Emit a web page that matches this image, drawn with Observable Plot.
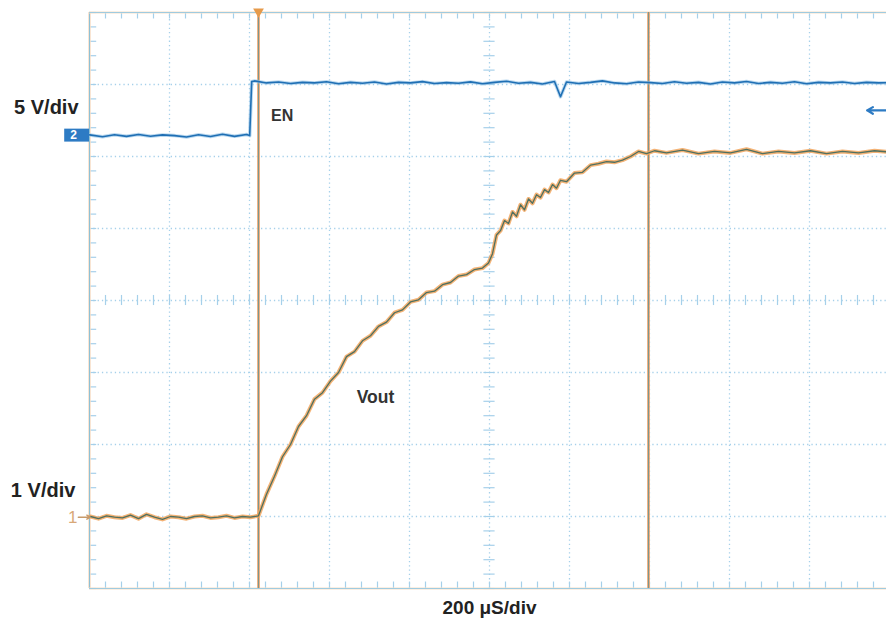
<!DOCTYPE html>
<html>
<head>
<meta charset="utf-8">
<script src="https://cdn.jsdelivr.net/npm/d3@7"></script>
<script src="https://cdn.jsdelivr.net/npm/@observablehq/plot@0.6"></script>
<style>
html,body{margin:0;padding:0;background:#fff;}
#chart svg{display:block;}
</style>
</head>
<body>
<div id="chart"></div>
<script>
// Oscilloscope settings
const timePerDiv = 200;          // µs/div
const enVoltsPerDiv = 5;         // V/div (channel 2, EN)
const voutVoltsPerDiv = 1;       // V/div (channel 1, Vout)
const centerTime = 577.5;        // µs at screen centre (trigger at 0)
const enGroundDiv = 2.29;        // ch2 ground marker position (div)
const voutGroundDiv = -3.01;     // ch1 ground marker position (div)
const cursorTimes = [0, 975];    // µs

const xDivs = [-5,-4,-3,-2,-1,0,1,2,3,4,5];
const yDivs = [-4,-3,-2,-1,0,1,2,3,4];

// EN trace (V)
const enT = [-422,-390,-360,-330,-300,-270,-240,-210,-180,-150,-120,-90,-60,-30,-22,-17,
  -10,20,50,80,110,140,170,200,230,260,290,320,350,380,410,440,470,500,530,560,590,620,650,680,
  710,740,755,770,800,830,860,890,920,950,980,1010,1040,1070,1100,1130,1160,1190,1220,1250,
  1280,1310,1340,1370,1400,1430,1460,1490,1520,1550,1580];
const enV = [0.05,-0.08,0.06,-0.05,0.08,-0.04,0.05,0.00,-0.10,0.06,-0.06,0.10,-0.05,0.08,0.00,3.75,
  3.80,3.66,3.72,3.62,3.70,3.66,3.74,3.60,3.70,3.64,3.72,3.58,3.70,3.66,3.75,3.62,3.68,3.64,3.73,3.60,3.70,3.78,3.64,3.70,
  3.58,3.76,2.70,3.72,3.62,3.70,3.80,3.66,3.60,3.72,3.68,3.62,3.74,3.64,3.70,3.58,3.72,3.66,3.76,3.62,
  3.70,3.64,3.74,3.60,3.70,3.66,3.72,3.62,3.70,3.66,3.68];

// Vout trace (V)
const voutT = [-420,-400,-380,-360,-340,-320,-300,-280,-260,-240,-220,-200,-180,-160,-140,-120,-100,-80,-60,-40,-20,0,
  20,40,60,80,100,120,140,160,180,200,220,240,260,280,300,320,340,360,380,400,420,440,460,480,500,520,540,560,
  575,585,595,605,615,625,635,645,655,665,675,685,695,705,715,725,735,745,755,770,790,810,830,850,870,890,910,930,950,970,990,
  1020,1060,1100,1140,1180,1220,1260,1300,1340,1380,1420,1460,1500,1540,1580];
const voutV = [0.01,-0.02,0.02,0.00,-0.01,0.03,-0.02,0.04,0.00,-0.03,0.01,0.00,-0.02,0.01,0.02,-0.01,0.00,0.02,-0.01,0.01,0.00,0.02,
  0.32,0.57,0.84,1.01,1.26,1.41,1.64,1.73,1.89,2.01,2.23,2.30,2.45,2.52,2.65,2.71,2.84,2.88,2.99,3.02,3.12,3.14,3.23,3.26,3.35,3.37,3.44,3.46,
  3.53,3.66,3.92,3.98,4.12,4.08,4.24,4.18,4.34,4.27,4.42,4.36,4.48,4.44,4.55,4.51,4.62,4.57,4.68,4.66,4.78,4.79,4.89,4.91,4.94,4.93,4.96,5.01,5.08,5.05,5.09,
  5.06,5.10,5.05,5.08,5.06,5.11,5.05,5.08,5.06,5.09,5.05,5.08,5.06,5.09,5.07];

const en = enT.map((t, i) => ({t, y: enV[i] / enVoltsPerDiv + enGroundDiv}));
const vout = voutT.map((t, i) => ({t, y: voutV[i] / voutVoltsPerDiv + voutGroundDiv}));

const divToT = d => centerTime + d * timePerDiv;
const minorX = d3.range(-25, 26).map(k => divToT(k / 5));
const minorY = d3.range(-20, 21).map(k => k / 5);
const font = "'Liberation Sans', Arial, Helvetica, sans-serif";
const gridColor = "#a6d0ea";

const chart = Plot.plot({
  width: 886,
  height: 621,
  marginLeft: 89, marginRight: 0, marginTop: 12, marginBottom: 33,
  x: {domain: [divToT(-5), divToT(5)], range: [89, 889]},
  y: {domain: [-4, 4], range: [588, 12]},
  axis: null,
  style: {fontFamily: font, background: "#fff", overflow: "visible"},
  marks: [
    // dotted grid
    Plot.ruleX(xDivs.slice(1, -1).map(divToT), {y1: -4, y2: 4, stroke: gridColor, strokeWidth: 1.3, strokeDasharray: "1.3,3"}),
    Plot.ruleY(yDivs.slice(1, -1), {x1: divToT(-5), x2: divToT(5), stroke: gridColor, strokeWidth: 1.3, strokeDasharray: "1.3,3"}),
    // minor ticks on centre lines and frame edges
    Plot.ruleX(minorX, {y1: -0.07, y2: 0.07, stroke: gridColor, strokeWidth: 1.2}),
    Plot.ruleX(minorX, {y1: -4, y2: -3.91, stroke: gridColor, strokeWidth: 1.2}),
    Plot.ruleX(minorX, {y1: 3.91, y2: 4, stroke: gridColor, strokeWidth: 1.2}),
    Plot.ruleY(minorY, {x1: divToT(-0.07), x2: divToT(0.07), stroke: gridColor, strokeWidth: 1.2}),
    Plot.ruleY(minorY, {x1: divToT(-5), x2: divToT(-4.91), stroke: gridColor, strokeWidth: 1.2}),
    // frame
    Plot.ruleX([divToT(-5)], {y1: -4, y2: 4, stroke: "#f7dcc4", strokeWidth: 2.5}),
    Plot.ruleX([divToT(-5)], {y1: -4, y2: 4, stroke: "#8fc0d4", strokeWidth: 1}),
    Plot.ruleY([-4, 4], {x1: divToT(-5), x2: divToT(5), stroke: "#f7e0c8", strokeWidth: 2.2}),
    Plot.ruleY([-4, 4], {x1: divToT(-5), x2: divToT(5), stroke: "#9fcbe0", strokeWidth: 1}),
    // cursors
    Plot.ruleX(cursorTimes, {y1: -4, y2: 4, stroke: "#eeaa78", strokeWidth: 2.8}),
    Plot.ruleX(cursorTimes, {y1: -4, y2: 4, stroke: "#7e968c", strokeWidth: 1}),
    // traces
    Plot.line(vout, {x: "t", y: "y", stroke: "#f2a65e", strokeWidth: 4, strokeOpacity: 0.85}),
    Plot.line(vout, {x: "t", y: "y", stroke: "#4f7060", strokeWidth: 1.3}),
    Plot.line(en, {x: "t", y: "y", stroke: "#9cc8e8", strokeWidth: 3.5, strokeOpacity: 0.7}),
    Plot.line(en, {x: "t", y: "y", stroke: "#1f6fb4", strokeWidth: 1.6}),
    // trigger marker
    Plot.dot([0], {x: d => d, y: 4, symbol: "triangle", rotate: 180, r: 4, fill: "#e69a4a", dy: -1}),
    // ground markers
    Plot.rect([0], {x1: divToT(-5.31), x2: divToT(-5), y1: enGroundDiv - 0.09, y2: enGroundDiv + 0.09, fill: "#2d7bc4"}),
    Plot.text(["2"], {x: divToT(-5.2), y: enGroundDiv, text: d => d, fill: "#fff", fontWeight: "bold", fontSize: 12}),
    Plot.text(["1"], {x: divToT(-5.21), y: voutGroundDiv, text: d => d, fill: "#d8a878", fontSize: 17}),
    Plot.arrow([0], {x1: divToT(-5.14), x2: divToT(-4.99), y1: voutGroundDiv, y2: voutGroundDiv, stroke: "#c89a6a", strokeWidth: 1.4, headLength: 5}),
    // right-side arrow
    Plot.arrow([0], {x1: divToT(4.97), x2: divToT(4.72), y1: 2.64, y2: 2.64, stroke: "#2d7bc4", strokeWidth: 2.2, headLength: 8}),
    // labels
    Plot.text(["EN"], {x: divToT(-2.73), y: 2.56, text: d => d, fontSize: 16, fontWeight: "bold", fill: "#333", textAnchor: "start"}),
    Plot.text(["Vout"], {x: divToT(-1.66), y: -1.34, text: d => d, fontSize: 17.5, fontWeight: "bold", fill: "#333", textAnchor: "start"}),
    Plot.text(["5 V/div"], {x: divToT(-5.54), y: 2.68, text: d => d, fontSize: 20, fontWeight: "bold", fill: "#222"}),
    Plot.text(["1 V/div"], {x: divToT(-5.58), y: -2.64, text: d => d, fontSize: 20, fontWeight: "bold", fill: "#222"}),
    Plot.text(["200 μS/div"], {x: divToT(0), y: -4, dy: 19, text: d => d, fontSize: 19, fontWeight: "bold", fill: "#222"})
  ]
});
document.getElementById("chart").appendChild(chart);
</script>
</body>
</html>
